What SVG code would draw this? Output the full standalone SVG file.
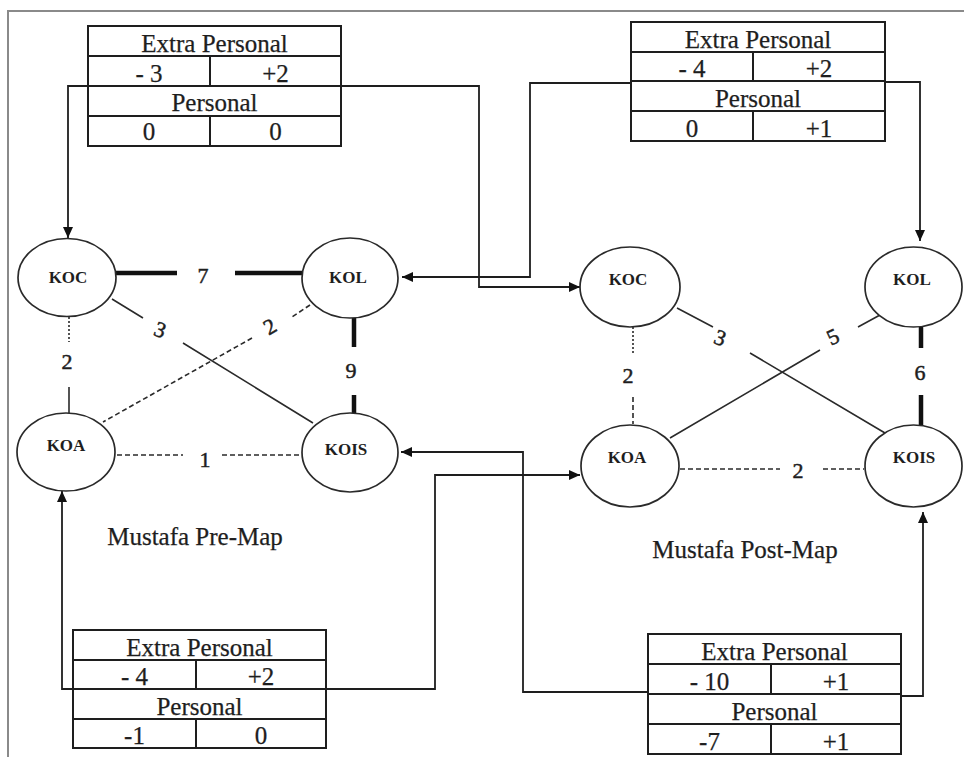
<svg xmlns="http://www.w3.org/2000/svg" width="964" height="757" viewBox="0 0 964 757">
<style>
text{font-family:"Liberation Serif","Times New Roman",serif;fill:#1e1e1e;text-anchor:middle}
.t{font-size:25px;stroke:#1e1e1e;stroke-width:0.25}
.n{font-size:17px;font-weight:bold}
.e{font-size:22px;stroke:#1e1e1e;stroke-width:0.5}
.cell{fill:none;stroke:#1e1e1e;stroke-width:2}
.node{fill:#fff;stroke:#2a2a2a;stroke-width:1.7}
.conn{fill:none;stroke:#1e1e1e;stroke-width:1.8}
.thick{stroke:#111;stroke-width:4.5;fill:none}
.thin{stroke:#2a2a2a;stroke-width:1.6;fill:none}
.dash{stroke:#2a2a2a;stroke-width:1.6;fill:none;stroke-dasharray:5,3}
.dot{stroke:#2a2a2a;stroke-width:1.6;fill:none;stroke-dasharray:2,2}
</style>
<defs>
<marker id="arr" markerUnits="userSpaceOnUse" markerWidth="11" markerHeight="10" refX="11" refY="5" orient="auto">
<path d="M0,0 L11,5 L0,10 z" fill="#111"/>
</marker>
</defs>
<rect width="964" height="757" fill="#fff"/>
<path d="M8,757 V11 H964" fill="none" stroke="#8a8a8a" stroke-width="2"/>

<g id="connectors">
<path class="conn" d="M88,86 H68 V238" marker-end="url(#arr)"/>
<path class="conn" d="M341,86 H479 V287 H580" marker-end="url(#arr)"/>
<path class="conn" d="M631,83 H530 V277 H402" marker-end="url(#arr)"/>
<path class="conn" d="M885,82 H920 V241" marker-end="url(#arr)"/>
<path class="conn" d="M73,689 H62 V491" marker-end="url(#arr)"/>
<path class="conn" d="M326,689 H435 V475 H580" marker-end="url(#arr)"/>
<path class="conn" d="M648,692 H523 V452 H401" marker-end="url(#arr)"/>
<path class="conn" d="M901,696 H923 V512" marker-end="url(#arr)"/>
</g>

<g id="edges-pre">
<path class="thick" d="M116,273 H177 M235,273 H302"/>
<text class="e" x="203" y="283">7</text>
<path class="thin" d="M112,299 L143,318 M183,343 L313,423"/>
<text class="e" x="160" y="337" transform="rotate(20 160 330)">3</text>
<path class="dash" d="M310,305 L292,317 M252,338 L103,422"/>
<text class="e" x="270" y="334" transform="rotate(-30 270 327)">2</text>
<path class="dot" d="M69,317 V342"/>
<path class="thin" d="M69,387 V413"/>
<text class="e" x="67" y="369">2</text>
<path class="thick" d="M354,318 V347 M354,395 V413"/>
<text class="e" x="351" y="378">9</text>
<path class="dash" d="M117,455 H183 M222,455 H299"/>
<text class="e" x="205" y="467">1</text>
</g>

<g id="edges-post">
<path class="dot" d="M633,327 V355"/>
<path class="dash" d="M633,397 V424"/>
<text class="e" x="628" y="383">2</text>
<path class="thin" d="M677,308 L713,327 M750,353 L885,433"/>
<text class="e" x="720" y="345" transform="rotate(20 720 338)">3</text>
<path class="thin" d="M670,438 L820,350 M858,327 L880,315"/>
<text class="e" x="833" y="344" transform="rotate(-25 833 337)">5</text>
<path class="thick" d="M921,327 V348 M921,395 V426"/>
<text class="e" x="920" y="380">6</text>
<path class="dash" d="M680,469 H780 M823,469 H864"/>
<text class="e" x="798" y="478">2</text>
</g>

<g id="pre-KOC"><ellipse class="node" cx="67" cy="277.5" rx="49" ry="39"/><text class="n" x="68" y="283">KOC</text></g>
<g id="pre-KOL"><ellipse class="node" cx="350" cy="278" rx="48" ry="40"/><text class="n" x="348" y="283">KOL</text></g>
<g id="pre-KOA"><ellipse class="node" cx="66" cy="452" rx="49" ry="39"/><text class="n" x="66" y="451">KOA</text></g>
<g id="pre-KOIS"><ellipse class="node" cx="350" cy="452.5" rx="48" ry="39.5"/><text class="n" x="346" y="455">KOIS</text></g>
<g id="post-KOC"><ellipse class="node" cx="630" cy="287" rx="50" ry="40"/><text class="n" x="628" y="285">KOC</text></g>
<g id="post-KOL"><ellipse class="node" cx="913.5" cy="287" rx="48.5" ry="40"/><text class="n" x="912" y="285">KOL</text></g>
<g id="post-KOA"><ellipse class="node" cx="630" cy="466" rx="49" ry="41"/><text class="n" x="627" y="463">KOA</text></g>
<g id="post-KOIS"><ellipse class="node" cx="913.5" cy="466" rx="48.5" ry="41"/><text class="n" x="914" y="463">KOIS</text></g>

<g id="table-pre-top">
<rect class="cell" x="88" y="26" width="253" height="120" fill="#fff"/>
<path class="cell" d="M88,56 H341 M88,86 H341 M88,116 H341 M210,56 V86 M210,116 V146"/>
<text class="t" x="214.5" y="52">Extra Personal</text>
<text class="t" x="149" y="82">- 3</text>
<text class="t" x="275.5" y="82">+2</text>
<text class="t" x="214.5" y="111">Personal</text>
<text class="t" x="149" y="140">0</text>
<text class="t" x="275.5" y="140">0</text>
</g>

<g id="table-post-top">
<rect class="cell" x="631" y="22" width="254" height="119"/>
<path class="cell" d="M631,52 H885 M631,81 H885 M631,111 H885 M753,52 V81 M753,111 V141"/>
<text class="t" x="758" y="48">Extra Personal</text>
<text class="t" x="692" y="77">- 4</text>
<text class="t" x="819" y="77">+2</text>
<text class="t" x="758" y="107">Personal</text>
<text class="t" x="692" y="137">0</text>
<text class="t" x="819" y="137">+1</text>
</g>

<g id="table-pre-bottom">
<rect class="cell" x="73" y="630" width="253" height="118"/>
<path class="cell" d="M73,660 H326 M73,689 H326 M73,719 H326 M196,660 V689 M196,719 V748"/>
<text class="t" x="199.5" y="656">Extra Personal</text>
<text class="t" x="134.5" y="685">- 4</text>
<text class="t" x="261" y="685">+2</text>
<text class="t" x="199.5" y="715">Personal</text>
<text class="t" x="134.5" y="744">-1</text>
<text class="t" x="261" y="744">0</text>
</g>

<g id="table-post-bottom">
<rect class="cell" x="648" y="634" width="253" height="120"/>
<path class="cell" d="M648,664 H901 M648,694 H901 M648,724 H901 M771,664 V694 M771,724 V754"/>
<text class="t" x="774.5" y="660">Extra Personal</text>
<text class="t" x="709.5" y="690">- 10</text>
<text class="t" x="836" y="690">+1</text>
<text class="t" x="774.5" y="720">Personal</text>
<text class="t" x="709.5" y="750">-7</text>
<text class="t" x="836" y="750">+1</text>
</g>

<g id="labels">
<text class="t" x="195" y="545">Mustafa Pre-Map</text>
<text class="t" x="745" y="558">Mustafa Post-Map</text>
</g>
</svg>
